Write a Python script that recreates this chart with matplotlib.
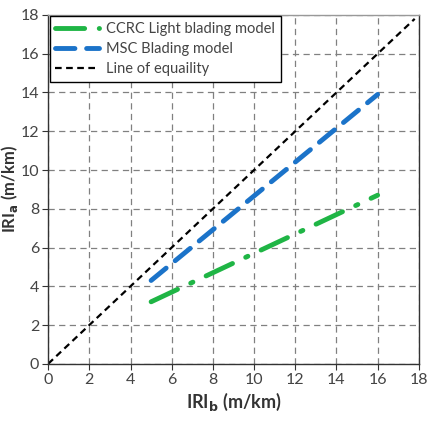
import matplotlib
matplotlib.use("Agg")
import matplotlib.pyplot as plt

plt.rcParams['font.family'] = ['Lato', 'DejaVu Sans']

ccrc_x = [5, 16]
ccrc_y = [3.2, 8.7]
msc_x = [5, 16]
msc_y = [4.3, 13.9]
eq_x = [0, 17.8]
eq_y = [0, 17.8]
ticks = [0, 2, 4, 6, 8, 10, 12, 14, 16, 18]

fig = plt.figure(figsize=(4.3, 4.28), dpi=100)
ax = fig.add_axes([0.112, 0.150, 0.862, 0.815])

ax.plot(ccrc_x, ccrc_y, color='#1fb545', lw=3.5, linestyle=(0, (6, 3, 0.5, 3)),
        dash_capstyle='round', solid_capstyle='round', label='CCRC Light blading model')
ax.plot(msc_x, msc_y, color='#1b73c9', lw=3.5, linestyle=(0, (4, 2.4)),
        dash_capstyle='round', label='MSC Blading model')
ax.plot(eq_x, eq_y, color='black', lw=1.6, linestyle=(0, (3, 2)), label='Line of equaility')

ax.set_xlim(0, 18)
ax.set_ylim(0, 18)
ax.set_xticks(ticks)
ax.set_yticks(ticks)
ax.grid(True, color='#808080', linestyle=(0, (5, 3.5)), lw=0.9)
ax.set_axisbelow(True)
for s in ax.spines.values():
    s.set_color('#333333')
    s.set_linewidth(1.0)
ax.spines['top'].set_color('#999999')
ax.tick_params(axis='both', labelsize=11.5, colors='#333333', length=4, direction='out', pad=2.5)
ax.tick_params(axis='x', labelcolor='#444444')
ax.tick_params(axis='y', labelcolor='#444444')

ax.set_xlabel('IRI$_{\\mathbf{b}}$ (m/km)', fontsize=13, fontweight='bold', color='#333333', labelpad=3)
ax.set_ylabel('IRI$_{\\mathbf{a}}$ (m/km)', fontsize=12, fontweight='bold', color='#333333',
              va='center')
ax.yaxis.set_label_coords(-0.104, 0.5)

leg = ax.legend(loc='upper left', fontsize=10.5, frameon=True, fancybox=False,
                edgecolor='black', framealpha=1, borderaxespad=0.1, handlelength=3.0,
                handletextpad=0.5, labelspacing=0.4, borderpad=0.4)
leg.get_frame().set_linewidth(1.0)
for t in leg.get_texts():
    t.set_color('#444444')

fig.savefig('out.png', dpi=100)
